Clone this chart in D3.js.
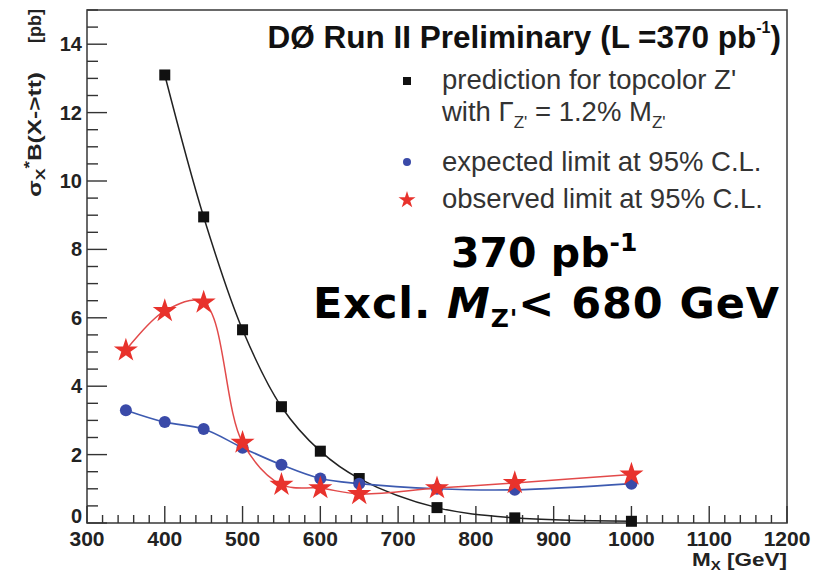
<!DOCTYPE html>
<html><head><meta charset="utf-8">
<script src="https://cdn.jsdelivr.net/npm/d3@7"></script>
<style>
html,body{margin:0;padding:0;background:#fff;}
svg{display:block;}
</style></head>
<body>
<svg id="c" width="823" height="576"></svg>
<script>
// ---- data ----
const massPred = [400, 450, 500, 550, 600, 650, 750, 850, 1000];
const prediction = [13.1, 8.95, 5.65, 3.4, 2.1, 1.3, 0.45, 0.15, 0.05];
const massLimit = [350, 400, 450, 500, 550, 600, 650, 750, 850, 1000];
const expected = [3.3, 2.95, 2.75, 2.2, 1.7, 1.3, 1.15, 1.0, 0.97, 1.15];
const observed = [5.05, 6.2, 6.45, 2.35, 1.12, 1.02, 0.85, 1.02, 1.17, 1.42];
const xTicks = [300, 400, 500, 600, 700, 800, 900, 1000, 1100, 1200];
const yTicks = [0, 2, 4, 6, 8, 10, 12, 14];

const svg = d3.select("#c");
const L = 87, R = 787, T = 10, B = 523;
const x = d3.scaleLinear().domain([300, 1200]).range([L, R]);
const y = d3.scaleLinear().domain([0, 15]).range([B, T]);

const axisFont = "'Liberation Sans', Arial, sans-serif";

// frame
svg.append("rect").attr("x", L).attr("y", T).attr("width", R - L).attr("height", B - T)
  .attr("fill", "none").attr("stroke", "#444").attr("stroke-width", 1.6);

// x axis ticks
const xMinor = d3.range(300, 1201, 20);
svg.append("g").selectAll("line").data(xMinor).join("line")
  .attr("x1", d => x(d)).attr("x2", d => x(d))
  .attr("y1", B).attr("y2", d => B - (d % 100 === 0 ? 17 : 8))
  .attr("stroke", "#333").attr("stroke-width", 1.4);
svg.append("g").selectAll("text").data(xTicks).join("text")
  .attr("x", d => x(d)).attr("y", 546).attr("text-anchor", "middle")
  .attr("font-family", axisFont).attr("font-weight", "bold").attr("font-size", 21)
  .attr("fill", "#222").text(d => d);

// y axis ticks
const yMinor = d3.range(0, 15.01, 0.5);
svg.append("g").selectAll("line").data(yMinor).join("line")
  .attr("x1", L).attr("x2", d => L + (d % 2 === 0 ? 20 : 11))
  .attr("y1", d => y(d)).attr("y2", d => y(d))
  .attr("stroke", "#333").attr("stroke-width", 1.4);
svg.append("g").selectAll("text").data(yTicks).join("text")
  .attr("x", 82).attr("y", d => d === 0 ? y(d) : y(d) + 7).attr("text-anchor", "end")
  .attr("font-family", axisFont).attr("font-weight", "bold").attr("font-size", 20)
  .attr("fill", "#222").text(d => d);

// axis titles
const xt = svg.append("text").attr("x", 692).attr("y", 566)
  .attr("font-family", axisFont).attr("font-weight", "bold").attr("font-size", 18).attr("fill", "#222")
  .attr("textLength", 95).attr("lengthAdjust", "spacingAndGlyphs");
xt.append("tspan").text("M");
xt.append("tspan").attr("font-size", 12).attr("dy", 4).text("X");
xt.append("tspan").attr("dy", -4).text(" [GeV]");

const yt = svg.append("text").attr("transform", "translate(41,197) rotate(-90)")
  .attr("font-family", axisFont).attr("font-weight", "bold").attr("font-size", 18).attr("fill", "#222")
  .attr("textLength", 125).attr("lengthAdjust", "spacingAndGlyphs");
yt.append("tspan").text("σ");
yt.append("tspan").attr("font-size", 13).attr("dy", 4).text("X");
yt.append("tspan").attr("font-size", 14).attr("dy", -11).text("*");
yt.append("tspan").attr("dy", 7).text("B(X->tt)");
svg.append("text").attr("transform", "translate(41,9) rotate(-90)").attr("text-anchor", "end")
  .attr("font-family", axisFont).attr("font-weight", "bold").attr("font-size", 18).attr("fill", "#222")
  .text("[pb]");

// curves
const line = d3.line().x(d => x(d[0])).y(d => y(d[1])).curve(d3.curveCatmullRom.alpha(0.5));
const predPts = massPred.map((m, i) => [m, prediction[i]]);
const expPts = massLimit.map((m, i) => [m, expected[i]]);
const obsPts = massLimit.map((m, i) => [m, observed[i]]);

const cBlack = "#111", cBlue = "#3a4aa8", cRed = "#e8322c";

svg.append("path").attr("d", line(predPts)).attr("fill", "none").attr("stroke", "#222").attr("stroke-width", 1.5);
svg.append("path").attr("d", line(expPts)).attr("fill", "none").attr("stroke", "#3d5ab0").attr("stroke-width", 1.6);
svg.append("path").attr("d", line(obsPts)).attr("fill", "none").attr("stroke", "#e24a4a").attr("stroke-width", 1.5);

// markers
svg.append("g").selectAll("rect").data(predPts).join("rect")
  .attr("x", d => x(d[0]) - 5.5).attr("y", d => y(d[1]) - 5.5).attr("width", 11).attr("height", 11)
  .attr("fill", cBlack);
svg.append("g").selectAll("circle").data(expPts).join("circle")
  .attr("cx", d => x(d[0])).attr("cy", d => y(d[1])).attr("r", 6).attr("fill", cBlue);
const star = d3.symbol().type(d3.symbolStar);
svg.append("g").selectAll("path").data(obsPts).join("path")
  .attr("d", star.size(180)()).attr("transform", d => `translate(${x(d[0])},${y(d[1])})`)
  .attr("fill", cRed);

// title
const title = svg.append("text").attr("x", 781).attr("y", 48).attr("text-anchor", "end")
  .attr("font-family", axisFont).attr("font-weight", "bold").attr("font-size", 31.5).attr("fill", "#111");
title.append("tspan").text("DØ Run II Preliminary ");
title.append("tspan").text("(L =370 pb");
title.append("tspan").attr("font-size", 16).attr("dy", -15).text("-1");
title.append("tspan").attr("dy", 15).text(")");

// legend
const legFont = "'Liberation Sans', Arial, sans-serif";
const legX = 442;
function legText(yy, parts) {
  const t = svg.append("text").attr("x", legX).attr("y", yy)
    .attr("font-family", legFont).attr("font-size", 27.5).attr("fill", "#333");
  parts.forEach(p => {
    const s = t.append("tspan").text(p.t);
    if (p.fs) s.attr("font-size", p.fs);
    if (p.dy) s.attr("dy", p.dy);
  });
}
legText(89, [{t: "prediction for topcolor Z'"}]);
legText(121, [{t: "with Γ"}, {t: "Z'", fs: 17, dy: 7}, {t: " = 1.2% M", dy: -7}, {t: "Z'", fs: 17, dy: 7}]);
legText(171, [{t: "expected limit at 95% C.L."}]);
legText(208, [{t: "observed limit at 95% C.L."}]);
svg.append("rect").attr("x", 403).attr("y", 77).attr("width", 8).attr("height", 8).attr("fill", cBlack);
svg.append("circle").attr("cx", 407).attr("cy", 162).attr("r", 4).attr("fill", cBlue);
svg.append("path").attr("d", d3.symbol().type(d3.symbolStar).size(90)()).attr("transform", "translate(407,200)").attr("fill", cRed);

// big annotation
const bigFont = "'DejaVu Sans', sans-serif";
const a1 = svg.append("text").attr("x", 451).attr("y", 267)
  .attr("font-family", bigFont).attr("font-weight", "bold").attr("font-size", 41).attr("fill", "#000");
a1.append("tspan").text("370 pb");
a1.append("tspan").attr("font-size", 25).attr("dy", -16).text("-1");
const a2 = svg.append("text").attr("x", 313).attr("y", 318)
  .attr("font-family", bigFont).attr("font-weight", "bold").attr("font-size", 43).attr("fill", "#000")
  .attr("letter-spacing", 0.9);
a2.append("tspan").text("Excl. ");
a2.append("tspan").attr("font-style", "italic").text("M");
a2.append("tspan").attr("font-size", 25).attr("dy", 9).text("Z'");
a2.append("tspan").attr("dy", -9).text("< 680 GeV");
</script>
</body></html>
